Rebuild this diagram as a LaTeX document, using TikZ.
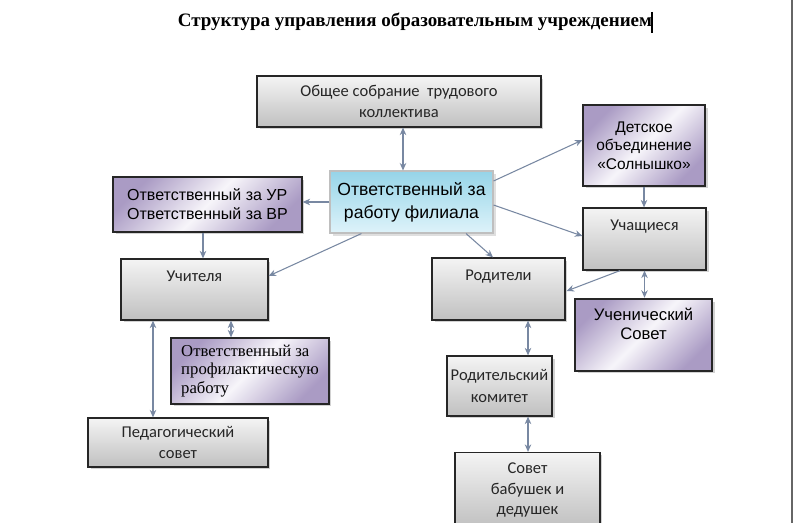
\documentclass[tikz,border=0pt]{standalone}
\usepackage{fontspec}
\setmainfont{Liberation Serif}
\newfontfamily\calfont{Carlito}
\newfontfamily\arfont{Liberation Sans}
\usepackage{tikz}
\usetikzlibrary{arrows.meta, calc, shadows}

\definecolor{lineclr}{RGB}{120,136,162}
\definecolor{greytop}{RGB}{244,244,244}
\definecolor{greybot}{RGB}{192,192,192}
\definecolor{purpdark}{RGB}{170,155,196}
\definecolor{purplight}{RGB}{247,245,250}
\definecolor{bluedark}{RGB}{150,212,232}
\definecolor{bluelight}{RGB}{222,243,250}

\begin{document}
\begin{tikzpicture}[x=0.02cm, y=-0.02cm,
  >={Stealth[length=1.5mm, width=1.3mm]}, line width=0.6pt,
  conn/.style={draw=lineclr, line width=0.6pt},
  greybox/.style={draw=black!85, line width=0.7pt, inner sep=0pt,
    top color=greytop, bottom color=greybot,
    drop shadow={shadow xshift=0.5mm, shadow yshift=-0.5mm, opacity=0.35},
    font=\calfont\fontsize{9.4}{12}\selectfont, text=black!85, align=center},
  purpbox/.style={draw=black!85, line width=0.7pt, inner sep=0pt,
    left color=purpdark, right color=purpdark, middle color=purplight, shading angle=45,
    drop shadow={shadow xshift=0.5mm, shadow yshift=-0.5mm, opacity=0.35},
    font=\arfont\fontsize{9.5}{10.5}\selectfont, align=center},
  bluebox/.style={draw=black!25, line width=0.6pt, inner sep=0pt,
    top color=bluedark, bottom color=bluelight,
    drop shadow={shadow xshift=0.6mm, shadow yshift=-0.6mm, opacity=0.25},
    font=\arfont\fontsize{10}{13}\selectfont, align=center},
  toptext/.style={anchor=north, inner sep=0pt, yshift=-2.3mm,
    font=\calfont\fontsize{9.4}{12}\selectfont, text=black!85}]

  \clip (0,0) rectangle (793,523);
  \fill[white] (0,0) rectangle (793,523);

  % заголовок
  \node[font=\bfseries\fontsize{10.8}{13}\selectfont] (title) at (415,22)
    {Структура управления образовательным учреждением};
  \draw[line width=1.2pt] (652,12) -- (652,33);
  \draw[black!60, line width=1pt] (792,0) -- (792,523);

  % верхний уровень
  \node[greybox, minimum width=5.68cm, minimum height=1.02cm] (sobranie) at (399,101.5)
    {Общее собрание \ трудового\\коллектива};
  \node[bluebox, minimum width=3.26cm, minimum height=1.24cm] (center) at (411.5,202)
    {Ответственный за\\работу филиала};

  % левая ветвь
  \node[purpbox, align=left, font=\arfont\fontsize{9.1}{10.8}\selectfont,
    minimum width=3.78cm, minimum height=1.1cm] (urvr) at (207.5,204.5)
    {Ответственный за УР\\Ответственный за ВР};
  \node[greybox, minimum width=2.94cm, minimum height=1.22cm,
    label={[toptext]north:Учителя}] (uchitelya) at (194.5,289.5) {};
  \node[purpbox, align=left, font=\rmfamily\fontsize{9.5}{10.3}\selectfont,
    minimum width=3.16cm, minimum height=1.32cm] (profil) at (250,371)
    {Ответственный за\\профилактическую\\работу};
  \node[greybox, minimum width=3.6cm, minimum height=0.98cm] (pedsovet) at (178,442.5)
    {Педагогический\\совет};

  % правая ветвь
  \node[purpbox, font=\arfont\fontsize{8.8}{10.4}\selectfont,
    minimum width=2.44cm, minimum height=1.62cm] (detskoe) at (644,145.5)
    {Детское\\объединение\\«Солнышко»};
  \node[greybox, minimum width=2.46cm, minimum height=1.24cm,
    label={[toptext]north:Учащиеся}] (uchashiesya) at (644.5,239) {};
  \node[purpbox, line width=1.4pt, minimum width=2.74cm, minimum height=1.44cm,
    label={[toptext, yshift=0.3mm, font=\arfont\fontsize{9.5}{10.5}\selectfont, text=black, align=center]north:Ученический\\Совет}]
    (uchsovet) at (643.5,335) {};

  % родители
  \node[greybox, minimum width=2.66cm, minimum height=1.24cm,
    label={[toptext]north:Родители}] (roditeli) at (498.5,289) {};
  \node[greybox, minimum width=2.1cm, minimum height=1.2cm] (rodkom) at (499.5,386)
    {Родительский\\комитет};
  \node[greybox, font=\calfont\fontsize{9.4}{11.5}\selectfont,
    minimum width=2.9cm, minimum height=1.5cm] (babushki) at (527.5,490)
    {Совет\\бабушек и\\дедушек};

  % связи от центра
  \draw[conn, <->] ($(sobranie.south)+(4,0)$) -- ($(center.north)+(-8.5,0)$);
  \draw[conn, ->] (center.west) -- (center.west -| urvr.east);
  \draw[conn, ->] ($(center.south west)+(32,0)$) -- ($(uchitelya.east)+(0,-13.5)$);
  \draw[conn, ->] ($(center.south)+(54.5,0)$) -- ($(roditeli.north)+(-5.5,0)$);
  \draw[conn, ->] ($(center.east)+(0,-21)$) -- ($(detskoe.west)+(0,-5.5)$);
  \draw[conn, ->] ($(center.east)+(0,3)$) -- ($(uchashiesya.west)+(0,-3)$);

  % левая ветвь
  \coordinate (a1) at ($(urvr.south)+(-4.5,0)$);
  \draw[conn, ->] (a1) -- (a1 |- uchitelya.north);
  \coordinate (a2) at ($(uchitelya.south)+(-41.5,0)$);
  \draw[conn, <->] (a2) -- (a2 |- pedsovet.north);
  \coordinate (a3) at ($(uchitelya.south)+(36.5,0)$);
  \draw[conn, <->] (a3) -- (a3 |- profil.north);

  % правая ветвь
  \draw[conn, ->] (detskoe.south) -- (detskoe.south |- uchashiesya.north);
  \draw[conn, <->] (uchashiesya.south) -- (uchashiesya.south |- uchsovet.north);
  \draw[conn, ->] ($(uchashiesya.south)+(-24.5,0)$) -- ($(roditeli.east)+(1,2)$);
  \coordinate (b1) at ($(roditeli.south)+(29.5,0)$);
  \draw[conn, <->] (b1) -- (b1 |- rodkom.north);
  \coordinate (b2) at (b1 |- rodkom.south);
  \draw[conn, <->] (b2) -- (b2 |- babushki.north);
\end{tikzpicture}
\end{document}
